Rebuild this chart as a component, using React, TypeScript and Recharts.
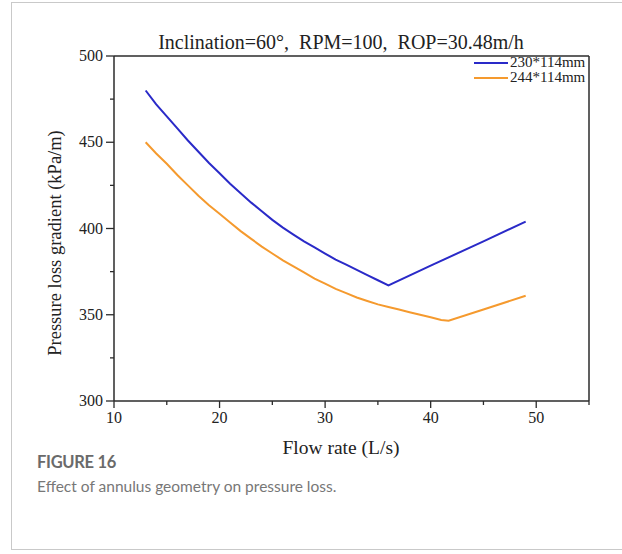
import React from "react"
import { LineChart, Line, XAxis, YAxis, ReferenceLine, Label } from "recharts"

// flow rate (L/s) -> pressure loss gradient (kPa/m)
const flow230 = [13, 14, 15, 16, 17, 18, 19, 20, 21, 22, 23, 24, 25, 26, 27, 28, 29, 30, 31, 32, 33, 34, 35, 36, 40, 45, 49]
const grad230 = [480, 472, 465, 458, 451, 444.5, 438, 432, 426, 420.5, 415, 410, 405, 400.5, 396.5, 392.5, 389, 385.5, 382, 379, 376, 373, 370, 367, 378.5, 392.5, 404]

const flow244 = [13, 14, 15, 16, 17, 18, 19, 20, 21, 22, 23, 24, 25, 26, 27, 28, 29, 30, 31, 32, 33, 34, 35, 36, 37, 38, 39, 40, 41, 41.7, 45, 49]
const grad244 = [450, 443.5, 437.5, 431, 425, 419, 413.5, 408.5, 403.5, 398.5, 394, 389.5, 385.5, 381.5, 378, 374.5, 371, 368, 365, 362.5, 360, 358, 356, 354.5, 353, 351.5, 350, 348.5, 347, 346.5, 353, 361]

const xTicks = [10, 15, 20, 25, 30, 35, 40, 45, 50, 55]
const yTicks = [300, 325, 350, 375, 400, 425, 450, 475, 500]

const series = [
  { name: "230*114mm", color: "#2a2ac8", flow: flow230, grad: grad230 },
  { name: "244*114mm", color: "#f59a2e", flow: flow244, grad: grad244 },
]

const serif = "'Liberation Serif', 'Times New Roman', serif"
const axisColor = "#2b2b2b"

const XTick = (props: any) => {
  const { x, y, payload } = props
  const major = payload.value % 10 === 0 && payload.value !== 55
  return (
    <g>
      <line x1={x} x2={x} y1={y} y2={y + (major ? 7 : 4)} stroke={axisColor} strokeWidth={1.3} />
      {major && (
        <text x={x} y={y + 22} textAnchor="middle" fontSize={16} fontFamily={serif} fill="#222">
          {payload.value}
        </text>
      )}
    </g>
  )
}

const YTick = (props: any) => {
  const { x, y, payload } = props
  const major = payload.value % 50 === 0
  return (
    <g>
      <line x1={x} x2={x - (major ? 8 : 4)} y1={y} y2={y} stroke={axisColor} strokeWidth={1.3} />
      {major && (
        <text x={x - 11} y={y + 5} textAnchor="end" fontSize={16} fontFamily={serif} fill="#222">
          {payload.value}
        </text>
      )}
    </g>
  )
}

export default function App() {
  return (
    <div style={{ position: "absolute", left: 0, top: 0, width: 622, height: 554, background: "#fff" }}>
      <div
        style={{
          position: "absolute",
          left: 11,
          top: 2,
          width: 620,
          height: 548,
          border: "1px solid #c9c9c9",
          boxSizing: "border-box",
        }}
      />
      <div
        style={{
          position: "absolute",
          left: 0,
          width: 682,
          top: 31,
          textAlign: "center",
          fontFamily: serif,
          fontSize: 20,
          color: "#222",
          whiteSpace: "pre",
        }}
      >
        {"Inclination=60°,  RPM=100,  ROP=30.48m/h"}
      </div>
      <LineChart
        width={622}
        height={460}
        margin={{ top: 56, right: 33, left: 54, bottom: 19 }}
        style={{ position: "absolute", left: 0, top: 0 }}
      >
        <XAxis
          type="number"
          dataKey="x"
          domain={[10, 55]}
          ticks={xTicks}
          interval={0}
          height={40}
          tickSize={0}
          tickMargin={0}
          tick={<XTick />}
          axisLine={{ stroke: axisColor, strokeWidth: 1.5 }}
          allowDuplicatedCategory={false}
        >
          <Label
            content={() => (
              <text x={341} y={454} textAnchor="middle" fontSize={19.5} fontFamily={serif} fill="#222">
                Flow rate (L/s)
              </text>
            )}
          />
        </XAxis>
        <YAxis
          type="number"
          dataKey="y"
          domain={[300, 500]}
          ticks={yTicks}
          interval={0}
          width={60}
          tickSize={0}
          tickMargin={0}
          tick={<YTick />}
          axisLine={{ stroke: axisColor, strokeWidth: 1.5 }}
        >
          <Label
            content={() => (
              <text
                x={61}
                y={243}
                transform="rotate(-90 61 243)"
                textAnchor="middle"
                fontSize={18.5}
                fontFamily={serif}
                fill="#222"
              >
                Pressure loss gradient (kPa/m)
              </text>
            )}
          />
        </YAxis>
        <ReferenceLine y={500} stroke={axisColor} strokeWidth={1.5} />
        <ReferenceLine x={55} stroke={axisColor} strokeWidth={1.5} />
        {series.map((s) => (
          <Line
            key={s.name}
            name={s.name}
            data={s.flow.map((f, i) => ({ x: f, y: s.grad[i] }))}
            dataKey="y"
            type="linear"
            stroke={s.color}
            strokeWidth={2}
            dot={false}
            isAnimationActive={false}
          />
        ))}
      </LineChart>
      <div
        style={{
          position: "absolute",
          left: 474,
          top: 55,
          fontFamily: serif,
          fontSize: 15,
          color: "#222",
          lineHeight: "15px",
        }}
      >
        {series.map((s) => (
          <div key={s.name} style={{ display: "flex", alignItems: "center" }}>
            <span style={{ display: "inline-block", width: 34, height: 2, background: s.color, marginRight: 2 }} />
            <span>{s.name}</span>
          </div>
        ))}
      </div>
      <div
        style={{
          position: "absolute",
          left: 37,
          top: 452,
          fontFamily: "Lato, sans-serif",
          fontSize: 16.5,
          fontWeight: 700,
          letterSpacing: -0.3,
          color: "#6a6a6a",
        }}
      >
        FIGURE 16
      </div>
      <div
        style={{
          position: "absolute",
          left: 37,
          top: 477,
          fontFamily: "Lato, sans-serif",
          fontSize: 15.5,
          color: "#777",
        }}
      >
        Effect of annulus geometry on pressure loss.
      </div>
    </div>
  )
}
